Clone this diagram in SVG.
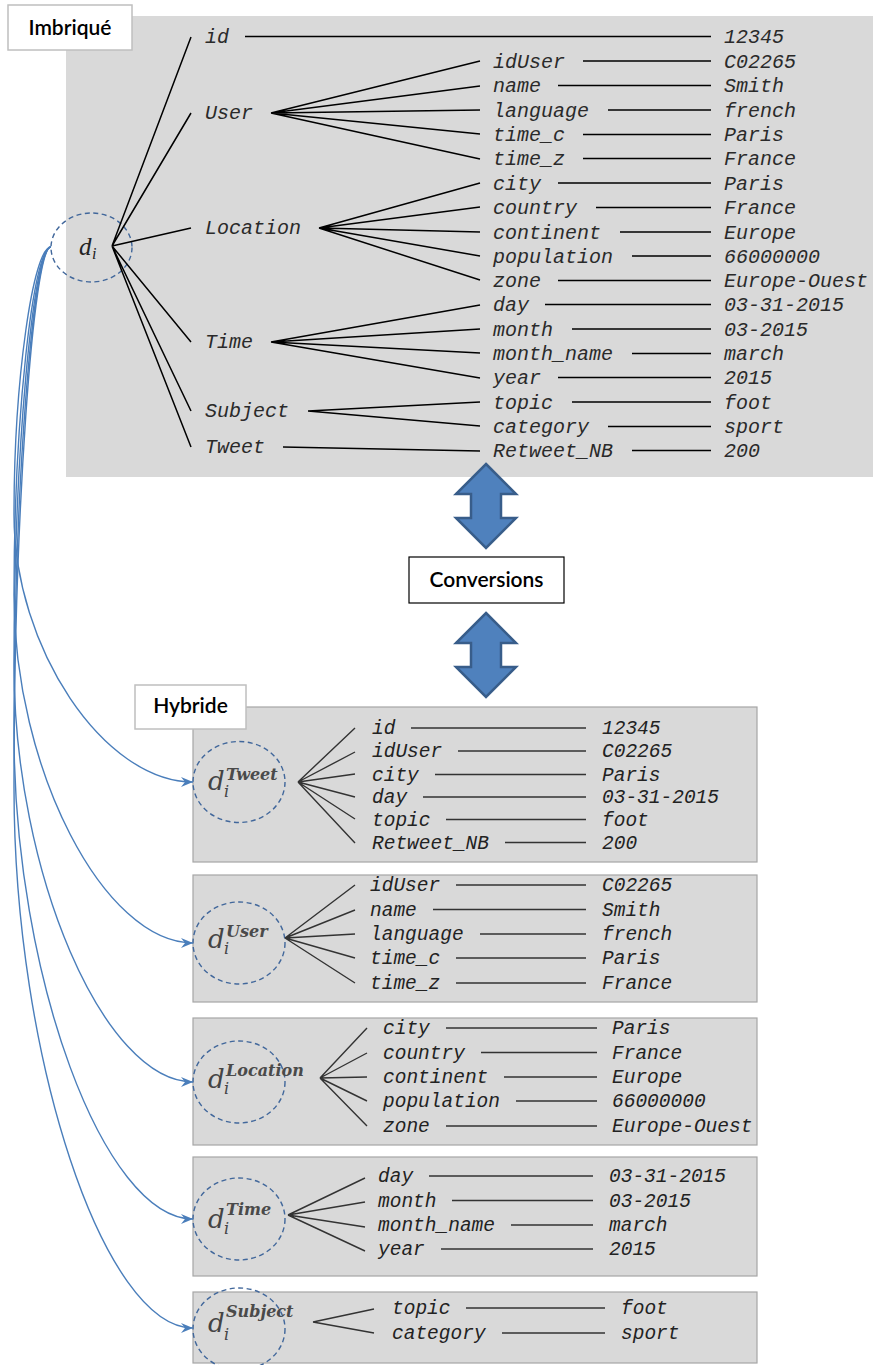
<svg xmlns="http://www.w3.org/2000/svg" width="873" height="1365" viewBox="0 0 873 1365">
<style>
.panel{fill:#d9d9d9;stroke:none}
.hbox{fill:#d9d9d9;stroke:#a6a6a6;stroke-width:1.2}
.lbl{fill:#fff;stroke:#bfbfbf;stroke-width:1.5}
.lbltxt{font-family:Lato,"Open Sans",sans-serif;font-size:21px;font-weight:600;fill:#000;text-anchor:middle}
.m{font-family:"Liberation Mono","Courier New",monospace;font-style:italic;font-size:20px;fill:#2a2a2a}
.mh{font-family:"Liberation Mono","Courier New",monospace;font-style:italic;font-size:19.5px;fill:#222}
.ln{stroke:#000;stroke-width:1.5;fill:none}
.lh{stroke:#333;stroke-width:1.4;fill:none}
.circ{fill:none;stroke:#41679b;stroke-width:1.4;stroke-dasharray:5 3.5}
.dd{font-family:"DejaVu Serif","Liberation Serif",serif;font-style:italic;fill:#444}
.sup{font-family:"DejaVu Serif","Liberation Serif",serif;font-style:italic;font-weight:bold;font-size:16px;fill:#4a4a4a}
.conn{fill:none;stroke:#4a7ebb;stroke-width:1.4}
.dbl{fill:#4f81bd;stroke:#385d8a;stroke-width:2.5;stroke-linejoin:miter}
</style>
<defs>
<marker id="ah" markerUnits="userSpaceOnUse" markerWidth="14" markerHeight="12" refX="12" refY="5" orient="auto">
<path d="M0,0 L12,5 L0,10 L4,5 Z" fill="#4a7ebb"/>
</marker>
</defs>

<!-- Top panel -->
<g id="imbrique">
<rect class="panel" x="66" y="16" width="807" height="461"/>
<rect class="lbl" x="8" y="5" width="124" height="45"/>
<text class="lbltxt" x="70" y="35">Imbriqué</text>
</g>

<g id="node-di">
<ellipse class="circ" cx="91.5" cy="247.5" rx="40.5" ry="34.5"/>
<text font-family="'Liberation Serif',serif" font-style="italic" font-size="25" fill="#222" x="79" y="255">d</text>
<text font-family="'Liberation Serif',serif" font-style="italic" font-size="16" fill="#222" x="92" y="259">i</text>
</g>

<g id="tree-top">
<path class="ln" d="M112,246 L191,37 M112,246 L191,113 M112,246 L191,228 M112,246 L191,342 M112,246 L191,411 M112,246 L191,447"/>
<path class="ln" d="M271,113 L480,61 M271,113 L480,86 M271,113 L480,110 M271,113 L480,134 M271,113 L480,159"/>
<path class="ln" d="M319,228 L480,183 M319,228 L480,207 M319,228 L480,232 M319,228 L480,256 M319,228 L480,280"/>
<path class="ln" d="M271,342 L480,305 M271,342 L480,329 M271,342 L480,353 M271,342 L480,378"/>
<path class="ln" d="M308,411 L480,402 M308,411 L480,426"/>
<path class="ln" d="M283,447 L480,451"/>
<path class="ln" d="M245,36.5H711 M583,61H711 M558,85.5H711 M608,110H711 M583,134.5H711 M583,158.5H711 M558,183H711 M596,207.5H711 M620,232H711 M632,256H711 M558,280.5H711 M545,304.5H711 M572,329H711 M632,353.5H711 M558,377.5H711 M572,402H711 M608,426.5H711 M632,450.5H711"/>
<text class="m" x="205" y="43">id</text>
<text class="m" x="205" y="119">User</text>
<text class="m" x="205" y="234">Location</text>
<text class="m" x="205" y="348">Time</text>
<text class="m" x="205" y="417">Subject</text>
<text class="m" x="205" y="453">Tweet</text>
<text class="m" x="493" y="67.5">idUser</text>
<text class="m" x="493" y="92">name</text>
<text class="m" x="493" y="116.5">language</text>
<text class="m" x="493" y="141">time_c</text>
<text class="m" x="493" y="165">time_z</text>
<text class="m" x="493" y="189.5">city</text>
<text class="m" x="493" y="214">country</text>
<text class="m" x="493" y="238.5">continent</text>
<text class="m" x="493" y="262.5">population</text>
<text class="m" x="493" y="287">zone</text>
<text class="m" x="493" y="311">day</text>
<text class="m" x="493" y="335.5">month</text>
<text class="m" x="493" y="360">month_name</text>
<text class="m" x="493" y="384">year</text>
<text class="m" x="493" y="408.5">topic</text>
<text class="m" x="493" y="433">category</text>
<text class="m" x="493" y="457">Retweet_NB</text>
<text class="m" x="724" y="43">12345</text>
<text class="m" x="724" y="67.5">C02265</text>
<text class="m" x="724" y="92">Smith</text>
<text class="m" x="724" y="116.5">french</text>
<text class="m" x="724" y="141">Paris</text>
<text class="m" x="724" y="165">France</text>
<text class="m" x="724" y="189.5">Paris</text>
<text class="m" x="724" y="214">France</text>
<text class="m" x="724" y="238.5">Europe</text>
<text class="m" x="724" y="262.5">66000000</text>
<text class="m" x="724" y="287">Europe-Ouest</text>
<text class="m" x="724" y="311">03-31-2015</text>
<text class="m" x="724" y="335.5">03-2015</text>
<text class="m" x="724" y="360">march</text>
<text class="m" x="724" y="384">2015</text>
<text class="m" x="724" y="408.5">foot</text>
<text class="m" x="724" y="433">sport</text>
<text class="m" x="724" y="457">200</text>
</g>

<!-- Conversions -->
<g id="arrow-up">
<path class="dbl" d="M486,464 L516,494 L501,494 L501,518 L516,518 L486,548 L456,518 L471,518 L471,494 L456,494 Z"/>
</g>
<g id="conversions">
<rect x="409" y="557" width="155" height="46" fill="#fff" stroke="#000" stroke-width="1.2"/>
<text class="lbltxt" x="486.5" y="587">Conversions</text>
</g>
<g id="arrow-down">
<path class="dbl" d="M486,613 L516,643 L501,643 L501,667 L516,667 L486,697 L456,667 L471,667 L471,643 L456,643 Z"/>
</g>

<g id="node-tweet">
<rect class="hbox" x="193" y="707" width="564" height="155"/>
<ellipse class="circ" cx="239" cy="782" rx="46" ry="40.5"/>
<text class="dd" font-size="26" x="208" y="790">d</text>
<text class="sup" x="226" y="780">Tweet</text>
<text class="dd" font-size="16" x="224" y="797">i</text>
<path class="lh" d="M298,782 L355,728 M298,782 L355,752 M298,782 L355,774 M298,782 L355,797 M298,782 L355,819 M298,782 L355,843"/>
<path class="lh" d="M411,728H586 M458,751H586 M435,774.5H586 M423,797H586 M446,819.5H586 M505,842.5H586"/>
<text class="mh" x="372" y="734">id</text>
<text class="mh" x="372" y="757">idUser</text>
<text class="mh" x="372" y="780.5">city</text>
<text class="mh" x="372" y="803">day</text>
<text class="mh" x="372" y="825.5">topic</text>
<text class="mh" x="372" y="848.5">Retweet_NB</text>
<text class="mh" x="602" y="734">12345</text>
<text class="mh" x="602" y="757">C02265</text>
<text class="mh" x="602" y="780.5">Paris</text>
<text class="mh" x="602" y="803">03-31-2015</text>
<text class="mh" x="602" y="825.5">foot</text>
<text class="mh" x="602" y="848.5">200</text>
</g>

<!-- Hybride label drawn above the first box -->
<g id="hybride-label">
<rect class="lbl" x="135" y="685" width="111" height="44"/>
<text class="lbltxt" x="190.5" y="713">Hybride</text>
</g>

<g id="node-user">
<rect class="hbox" x="193" y="875" width="564" height="127"/>
<ellipse class="circ" cx="239" cy="943" rx="46" ry="41"/>
<text class="dd" font-size="26" x="208" y="948">d</text>
<text class="sup" x="226" y="937">User</text>
<text class="dd" font-size="16" x="224" y="954">i</text>
<path class="lh" d="M285,938 L355,885 M285,938 L355,910 M285,938 L355,934 M285,938 L355,958 M285,938 L355,983"/>
<path class="lh" d="M456,885H586 M433,909.5H586 M480,934H586 M456,958H586 M456,983H586"/>
<text class="mh" x="370" y="891">idUser</text>
<text class="mh" x="370" y="915.5">name</text>
<text class="mh" x="370" y="940">language</text>
<text class="mh" x="370" y="964">time_c</text>
<text class="mh" x="370" y="989">time_z</text>
<text class="mh" x="602" y="891">C02265</text>
<text class="mh" x="602" y="915.5">Smith</text>
<text class="mh" x="602" y="940">french</text>
<text class="mh" x="602" y="964">Paris</text>
<text class="mh" x="602" y="989">France</text>
</g>

<g id="node-location">
<rect class="hbox" x="193" y="1018" width="564" height="127"/>
<ellipse class="circ" cx="239" cy="1082" rx="46" ry="41"/>
<text class="dd" font-size="26" x="208" y="1088">d</text>
<text class="sup" x="226" y="1076">Location</text>
<text class="dd" font-size="16" x="224" y="1094">i</text>
<path class="lh" d="M320,1078 L367,1028 M320,1078 L367,1053 M320,1078 L367,1077 M320,1078 L367,1101 M320,1078 L367,1126"/>
<path class="lh" d="M446,1028H597 M481,1052.5H597 M504,1077H597 M516,1101H597 M446,1126H597"/>
<text class="mh" x="383" y="1034">city</text>
<text class="mh" x="383" y="1058.5">country</text>
<text class="mh" x="383" y="1083">continent</text>
<text class="mh" x="383" y="1107">population</text>
<text class="mh" x="383" y="1132">zone</text>
<text class="mh" x="612" y="1034">Paris</text>
<text class="mh" x="612" y="1058.5">France</text>
<text class="mh" x="612" y="1083">Europe</text>
<text class="mh" x="612" y="1107">66000000</text>
<text class="mh" x="612" y="1132">Europe-Ouest</text>
</g>

<g id="node-time">
<rect class="hbox" x="193" y="1157" width="564" height="119"/>
<ellipse class="circ" cx="239" cy="1219" rx="46" ry="41"/>
<text class="dd" font-size="26" x="208" y="1228">d</text>
<text class="sup" x="226" y="1215">Time</text>
<text class="dd" font-size="16" x="224" y="1234">i</text>
<path class="lh" d="M288,1215 L365,1178 M288,1215 L365,1202 M288,1215 L365,1227 M288,1215 L365,1251"/>
<path class="lh" d="M429,1176H593 M452,1200.5H593 M511,1225H593 M441,1249H593"/>
<text class="mh" x="378" y="1182">day</text>
<text class="mh" x="378" y="1206.5">month</text>
<text class="mh" x="378" y="1231">month_name</text>
<text class="mh" x="378" y="1255">year</text>
<text class="mh" x="609" y="1182">03-31-2015</text>
<text class="mh" x="609" y="1206.5">03-2015</text>
<text class="mh" x="609" y="1231">march</text>
<text class="mh" x="609" y="1255">2015</text>
</g>

<g id="node-subject">
<rect class="hbox" x="193" y="1292" width="564" height="71"/>
<ellipse class="circ" cx="239" cy="1329" rx="46" ry="41"/>
<text class="dd" font-size="26" x="208" y="1332">d</text>
<text class="sup" x="226" y="1317">Subject</text>
<text class="dd" font-size="16" x="224" y="1340">i</text>
<path class="lh" d="M313,1322 L374,1309 M313,1322 L374,1333"/>
<path class="lh" d="M466,1308H605 M502,1333H605"/>
<text class="mh" x="392" y="1314">topic</text>
<text class="mh" x="392" y="1339">category</text>
<text class="mh" x="621" y="1314">foot</text>
<text class="mh" x="621" y="1339">sport</text>
</g>

<g id="connectors">
<path class="conn" marker-end="url(#ah)" d="M51,247 C33,247 14,381 14,515 C14,648 104,782 193,782"/>
<path class="conn" marker-end="url(#ah)" d="M51,247 C33,247 14,421 14,595 C14,769 104,943 193,943"/>
<path class="conn" marker-end="url(#ah)" d="M51,247 C33,247 14,456 14,665 C14,873 104,1082 193,1082"/>
<path class="conn" marker-end="url(#ah)" d="M51,247 C33,247 14,490 14,733 C14,976 104,1219 193,1219"/>
<path class="conn" marker-end="url(#ah)" d="M51,247 C33,247 14,518 14,788 C14,1058 104,1328 193,1328"/>
</g>
</svg>
